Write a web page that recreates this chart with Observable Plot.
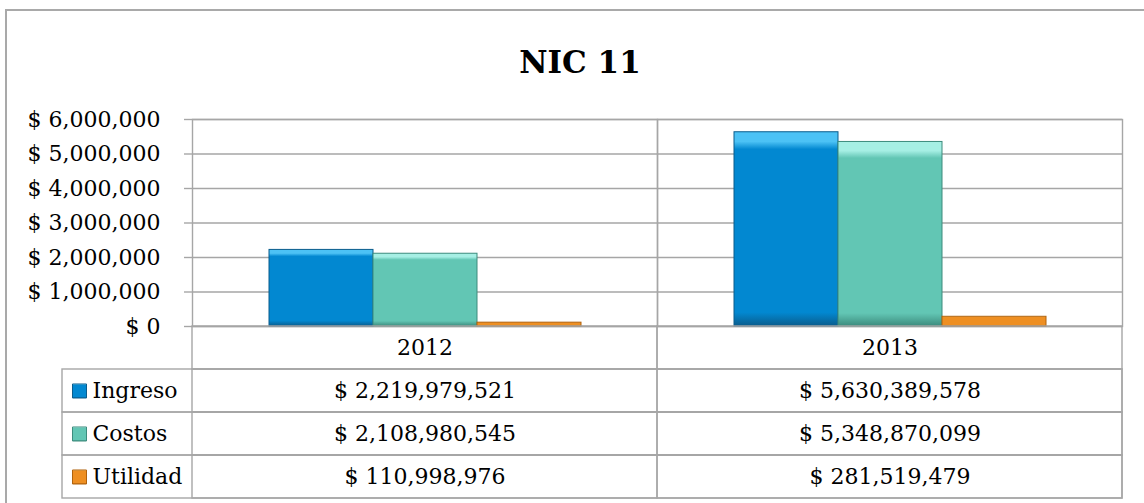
<!DOCTYPE html>
<html><head><meta charset="utf-8">
<script src="https://cdn.jsdelivr.net/npm/d3@7"></script>
<script src="https://cdn.jsdelivr.net/npm/@observablehq/plot@0.6"></script>
<style>
html,body{margin:0;padding:0;background:#fff;overflow:hidden;width:1144px;height:503px}
#frame{position:absolute;left:5px;top:9px;width:1200px;height:560px;border:2px solid #a9a9a9;box-sizing:border-box}
#title{position:absolute;left:0;top:47px;width:1160px;text-align:center;font:bold 31px/31px "DejaVu Serif";color:#000}
#chart{position:absolute;left:0;top:0}
#table{position:absolute;left:0;top:326px}
svg{background:transparent !important}
</style></head>
<body>
<div id="frame"></div>
<div id="title">NIC 11</div>
<div id="chart"></div>
<div id="table"></div>
<script>
// ---- data ----
const years = ["2012", "2013"];
const series = ["Ingreso", "Costos", "Utilidad"];
const ingreso = [2219979521, 5630389578];
const costos = [2108980545, 5348870099];
const utilidad = [110998976, 281519479];
const yTicks = [0, 1000000, 2000000, 3000000, 4000000, 5000000, 6000000];
const chartUnit = 1000; // the chart's axis shows the table values in thousands

// ---- styles ----
const baseColors = ["#0288d1", "#62c6b4", "#ee8f22"];
const lightColors = ["#4cc2f5", "#a6efe4", "#f8b659"];
const darkColors = ["#0a5c8c", "#3c8b7d", "#b0620c"];
const gridColor = "#a6a6a6";
const font = {fontFamily: "DejaVu Serif", fontSize: "22px", background: "transparent", color: "#000", overflow: "visible"};

const seriesValues = [ingreso, costos, utilidad];
const fmt = d3.format(",");
const dollar = v => "$ " + fmt(v);

const bars = [];
years.forEach((yr, i) => series.forEach((s, j) => bars.push({year: yr, series: s, value: seriesValues[j][i]})));
const cells = [];
series.forEach((s, j) => years.forEach((yr, i) => cells.push({row: s, year: yr, value: seriesValues[j][i]})));
const grid = [];
["header", ...series].forEach(r => years.forEach(yr => grid.push({row: r, year: yr})));

const chart = Plot.plot({
  width: 1144, height: 340,
  marginTop: 119, marginBottom: 14, marginLeft: 192, marginRight: 22,
  style: font,
  fx: {domain: years, padding: 0, axis: null},
  x: {domain: series, paddingInner: 0, paddingOuter: 0.735, axis: null},
  y: {domain: [0, 6000000], axis: null},
  color: {domain: series, range: baseColors},
  marks: [
    Plot.ruleY(yTicks, {stroke: gridColor, strokeWidth: 1.4}),
    Plot.frame({stroke: gridColor, strokeWidth: 1.4}),
    Plot.barY(bars, {fx: "year", x: "series", y: d => d.value / chartUnit, fill: "series"}),
    Plot.axisY(yTicks, {tickSize: 8, tickPadding: 24, tickFormat: dollar, stroke: gridColor, strokeWidth: 1.4, fill: "#000"})
  ]
});

const table = Plot.plot({
  width: 1144, height: 175,
  marginTop: 0, marginBottom: 3, marginLeft: 192, marginRight: 22,
  style: font,
  x: {domain: years, padding: 0, axis: null},
  y: {domain: ["header", ...series], padding: 0, axis: null},
  color: {domain: series, range: baseColors},
  marks: [
    Plot.cell(series, {y: d => d, insetLeft: -130, fill: "none", stroke: gridColor, strokeWidth: 1.4}),
    Plot.cell(grid, {x: "year", y: "row", fill: "none", stroke: gridColor, strokeWidth: 1.4}),
    Plot.text(years, {x: d => d, y: () => "header", text: d => d}),
    Plot.text(cells, {x: "year", y: "row", text: d => dollar(d.value)}),
    Plot.text(series, {y: d => d, frameAnchor: "left", dx: -100, textAnchor: "start", text: d => d}),
    Plot.dot(series, {y: d => d, frameAnchor: "left", dx: -113, symbol: "square", r: 7.9, fill: d => d})
  ]
});

// bevel-like gradients for bars and legend keys
function addGradients(svg, prefix) {
  const defs = d3.select(svg).insert("defs", ":first-child");
  baseColors.forEach((c, j) => {
    const g = defs.append("linearGradient").attr("id", prefix + j).attr("x1", 0).attr("y1", 0).attr("x2", 0).attr("y2", 1);
    [[0, lightColors[j]], [0.05, lightColors[j]], [0.09, c], [0.93, c], [1, darkColors[j]]]
      .forEach(([o, col]) => g.append("stop").attr("offset", o).attr("stop-color", col));
  });
  const lookup = new Map(baseColors.map((c, j) => [d3.color(c).formatHex(), j]));
  d3.select(svg).selectAll("rect[fill], path[fill]").each(function() {
    const f = this.getAttribute("fill");
    const col = d3.color(f);
    if (!col) return;
    const j = lookup.get(col.formatHex());
    if (j === undefined) return;
    this.setAttribute("fill", `url(#${prefix}${j})`);
    this.setAttribute("stroke", darkColors[j]);
    this.setAttribute("stroke-width", 1);
  });
}
addGradients(chart, "gc");
addGradients(table, "gt");

document.getElementById("chart").appendChild(chart);
document.getElementById("table").appendChild(table);
</script>
</body></html>
